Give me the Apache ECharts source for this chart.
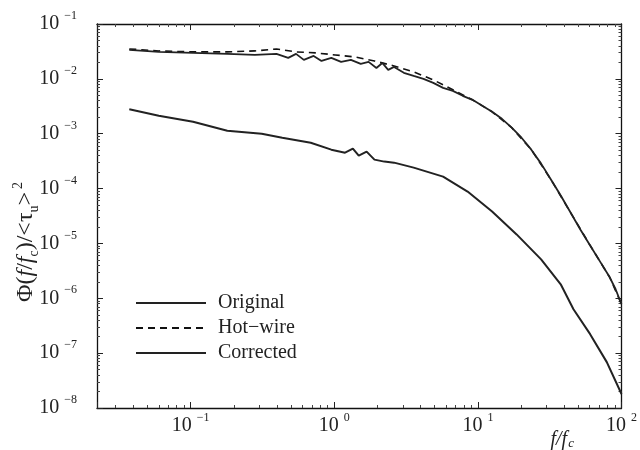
<!DOCTYPE html>
<html>
<head>
<meta charset="utf-8">
<script src="https://cdn.jsdelivr.net/npm/echarts@6/dist/echarts.min.js"></script>
<style>html,body{margin:0;padding:0;background:#fff}#c{width:640px;height:450px}</style>
</head>
<body>
<div id="c"></div>
<script>
const FONT = "'Liberation Serif','DejaVu Serif','Times New Roman',serif";

const xTickLabels = ['10^-1', '10^0', '10^1', '10^2'];
const yTickLabels = ['10^-1', '10^-2', '10^-3', '10^-4', '10^-5', '10^-6', '10^-7', '10^-8'];
const seriesNames = ['Original', 'Hot\u2212wire', 'Corrected'];

const freqOriginal = [0.0374,0.060,0.104,0.180,0.3126,0.4346,0.686,0.954,1.189,1.348,1.481,1.680,1.905,2.229,2.609,3.572,5.725,8.479,12.56,18.61,27.56,37.74,46.30,60.48,79.0,100];
const original = [2.79e-3,2.12e-3,1.65e-3,1.13e-3,1.0e-3,8.46e-4,6.86e-4,5.12e-4,4.51e-4,5.34e-4,3.98e-4,4.71e-4,3.37e-4,3.10e-4,2.97e-4,2.41e-4,1.65e-4,8.82e-5,3.82e-5,1.46e-5,5.12e-6,1.80e-6,6.31e-7,2.22e-7,6.86e-8,1.80e-8];

const freqHotwire = [0.0374,0.060,0.104,0.180,0.280,0.396,0.542,0.742,1.016,1.391,1.905,2.609,3.572,4.892,6.699,9.173,12.56,17.20,23.55,32.25,44.17,60.48,82.82,100];
const hotwire = [0.0351,0.0323,0.0310,0.0310,0.0323,0.0351,0.0310,0.0297,0.0273,0.0251,0.0212,0.0172,0.0134,0.00959,0.00631,0.00415,0.00251,0.00129,5.12e-4,1.46e-4,3.66e-5,9.20e-6,2.41e-6,7.78e-7];

const freqCorrected = [0.0374,0.060,0.104,0.180,0.280,0.396,0.478,0.542,0.614,0.719,0.815,0.954,1.116,1.306,1.529,1.734,1.966,2.161,2.374,2.609,3.052,3.572,4.181,4.892,5.725,6.699,7.841,9.173,10.73,12.56,14.70,17.20,20.13,23.55,27.56,32.25,37.74,44.17,51.68,60.48,70.77,82.82,91.0,100];
const corrected = [0.0337,0.0310,0.0297,0.0285,0.0273,0.0285,0.0241,0.0285,0.0222,0.0262,0.0212,0.0241,0.0204,0.0222,0.0187,0.0204,0.0158,0.0195,0.0146,0.0165,0.0129,0.0113,0.0100,0.00846,0.00686,0.00605,0.00491,0.00415,0.00323,0.00251,0.00187,0.00129,8.46e-4,5.12e-4,2.85e-4,1.46e-4,7.46e-5,3.66e-5,1.80e-5,9.20e-6,4.71e-6,2.41e-6,1.46e-6,7.78e-7];

const pairs = (xs, ys) => xs.map((x, i) => [x, ys[i]]);

function powLabel(list) {
  return function (v) {
    const e = Math.log10(v);
    const r = Math.round(e);
    if (Math.abs(e - r) > 1e-6) return '';
    const key = '10^' + r;
    if (list.indexOf(key) < 0) return '';
    const exp = String(r).replace('-', '\u2212');
    return '{b|10}{s|' + exp + '}';
  };
}
const tickRich = {
  b: { fontFamily: FONT, fontSize: 20, color: '#222', lineHeight: 28 },
  s: { fontFamily: FONT, fontSize: 12, color: '#222', lineHeight: 12, verticalAlign: 'top', padding: [0, 0, 0, 5] }
};

const axisLineStyle = { color: '#111', width: 1.3 };
const xBase = {
  type: 'log', logBase: 10, min: 0.02229, max: 100,
  axisLine: { show: true, lineStyle: axisLineStyle },
  axisTick: { show: true, inside: true, length: 6, lineStyle: { color: '#222' } },
  minorTick: { show: true, splitNumber: 9, length: 3, lineStyle: { color: '#444' } },
  splitLine: { show: false }, minorSplitLine: { show: false }
};
const yBase = {
  type: 'log', logBase: 10, min: 1e-8, max: 1e-1,
  axisLine: { show: true, lineStyle: axisLineStyle },
  axisTick: { show: true, inside: true, length: 6, lineStyle: { color: '#222' } },
  minorTick: { show: true, splitNumber: 9, length: 3, lineStyle: { color: '#444' } },
  splitLine: { show: false }, minorSplitLine: { show: false }
};

const chart = echarts.init(document.getElementById('c'), null, { renderer: 'canvas' });
chart.setOption({
  backgroundColor: '#fff',
  animation: false,
  grid: { left: 97, right: 8, top: 24, bottom: 41, containLabel: false },
  xAxis: [
    Object.assign({}, xBase, {
      position: 'bottom',
      axisLabel: { show: true, formatter: powLabel(xTickLabels), rich: tickRich, margin: 4, showMinLabel: false },
      name: '{i|f}{n|/}{i|f}{c|c}',
      nameLocation: 'end', nameGap: -71,
      nameTextStyle: {
        verticalAlign: 'top', align: 'left', padding: [21, 0, 0, 0],
        rich: {
          i: { fontFamily: FONT, fontStyle: 'italic', fontSize: 20, color: '#222' },
          n: { fontFamily: FONT, fontStyle: 'italic', fontSize: 20, color: '#222' },
          c: { fontFamily: FONT, fontStyle: 'italic', fontSize: 13, color: '#222', verticalAlign: 'bottom', padding: [8, 0, 0, 1] }
        }
      }
    }),
    Object.assign({}, xBase, { position: 'top', axisLabel: { show: false } })
  ],
  yAxis: [
    Object.assign({}, yBase, {
      position: 'left',
      axisLabel: { show: true, formatter: powLabel(yTickLabels), rich: tickRich, margin: 20 }
    }),
    Object.assign({}, yBase, { position: 'right', axisLabel: { show: false } })
  ],
  graphic: [{
    type: 'text',
    x: 26, y: 242,
    rotation: Math.PI / 2,
    style: {
      text: '{n|\u03a6(}{i|f}{n|/}{i|f}{b|c}{n|)/<\u03c4}{b|u}{n|>}{p|2}',
      align: 'center', verticalAlign: 'middle',
      rich: {
        n: { fontFamily: FONT, fontSize: 24, fill: '#222', lineHeight: 30 },
        i: { fontFamily: FONT, fontSize: 24, fontStyle: 'italic', fill: '#222', lineHeight: 30 },
        b: { fontFamily: FONT, fontSize: 14, fill: '#222', verticalAlign: 'bottom', lineHeight: 16 },
        p: { fontFamily: FONT, fontSize: 14, fill: '#222', verticalAlign: 'top', lineHeight: 14, padding: [0, 0, 0, 3] }
      }
    }
  }],
  legend: {
    orient: 'vertical', left: 135, top: 293, padding: 0,
    itemWidth: 70, itemHeight: 14, itemGap: 5,
    itemStyle: { opacity: 0 },
    data: seriesNames,
    textStyle: { fontFamily: FONT, fontSize: 20, color: '#222', padding: [0, 0, 0, 7], lineHeight: 14 }
  },
  series: [
    {
      name: seriesNames[0], type: 'line', showSymbol: false, symbol: 'none',
      data: pairs(freqOriginal, original),
      lineStyle: { color: '#222', width: 2 }, itemStyle: { color: '#222' }
    },
    {
      name: seriesNames[1], type: 'line', showSymbol: false, symbol: 'none',
      data: pairs(freqHotwire, hotwire),
      lineStyle: { color: '#111', width: 1.6, type: [7, 5] }, itemStyle: { color: '#111' }
    },
    {
      name: seriesNames[2], type: 'line', showSymbol: false, symbol: 'none',
      data: pairs(freqCorrected, corrected),
      lineStyle: { color: '#222', width: 1.8 }, itemStyle: { color: '#222' }
    }
  ]
});
</script>
</body>
</html>
